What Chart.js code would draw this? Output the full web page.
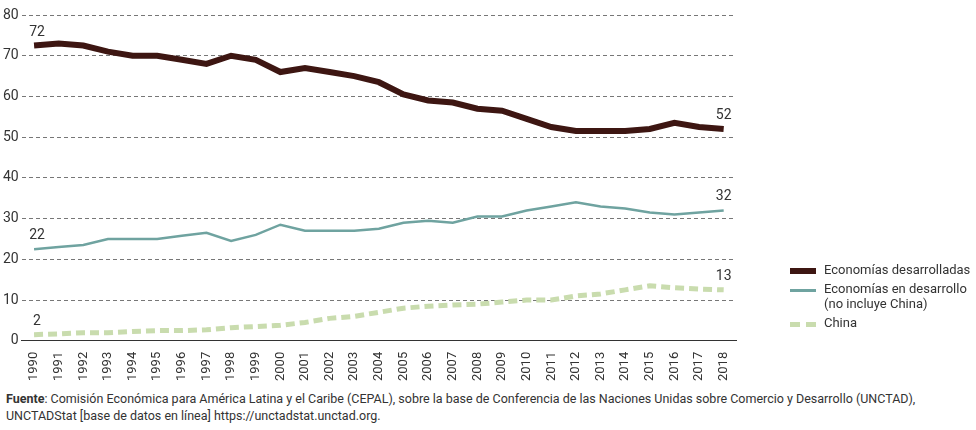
<!DOCTYPE html>
<html>
<head>
<script src="https://cdn.jsdelivr.net/npm/chart.js"></script>
<style>
body{margin:0;background:#fff;font-family:"Liberation Sans Narrow","Roboto","DejaVu Sans Condensed",sans-serif;color:#333}
#wrap{position:relative;width:976px;height:384px}
#legend{position:absolute;left:790px;top:262px;font-size:13px}
.item{display:flex;align-items:flex-start;margin-bottom:4px}
.sw{width:26px;height:0;margin-top:8px;margin-right:8px}
#src{font-size:12.5px;padding-left:6px;line-height:17px;margin-top:6px}
</style>
</head>
<body>
<div id="wrap"><canvas id="c" width="976" height="384"></canvas>
<div id="legend">
<div class="item"><div class="sw" style="border-top:6px solid #3d1612;margin-top:6px"></div>Economías desarrolladas</div>
<div class="item"><div class="sw" style="border-top:3px solid #6fa3a0"></div>Economías en desarrollo<br>(no incluye China)</div>
<div class="item"><div class="sw" style="border-top:5px dashed #c9dcae;margin-top:7px"></div>China</div>
</div></div>
<div id="src"><b>Fuente</b>: Comisión Económica para América Latina y el Caribe (CEPAL), sobre la base de Conferencia de las Naciones Unidas sobre Comercio y Desarrollo (UNCTAD),<br>UNCTADStat [base de datos en línea] https://unctadstat.unctad.org.</div>
<script>
const years = [];
for (let y = 1990; y <= 2018; y++) years.push(String(y));
const desarrolladas = [72.5,73,72.5,71,70,70,69,68,70,69,66,67,66,65,63.5,60.5,59,58.5,57,56.5,54.5,52.5,51.5,51.5,51.5,52,53.5,52.5,52];
const enDesarrollo = [22.5,23,23.5,25,25,25,25.8,26.5,24.5,26,28.5,27,27,27,27.5,29,29.5,29,30.5,30.5,32,33,34,33,32.5,31.5,31,31.5,32];
const china = [1.5,1.7,2,2,2.3,2.5,2.5,2.7,3.2,3.5,3.8,4.5,5.5,6,7,8,8.5,8.8,9,9.5,10,10,11,11.5,12.5,13.5,13,12.7,12.5];
const endLabels = [["72","52"],["22","32"],["2","13"]];

const labelPlugin = {
  id: 'ends',
  afterDatasetsDraw(chart) {
    const ctx = chart.ctx;
    ctx.save();
    ctx.font = '14px "Liberation Sans Narrow", Roboto, sans-serif';
    ctx.fillStyle = '#333';
    ctx.textAlign = 'center';
    chart.data.datasets.forEach((ds, i) => {
      const pts = chart.getDatasetMeta(i).data;
      const a = pts[0], b = pts[pts.length - 1];
      ctx.fillText(endLabels[i][0], a.x + 3, a.y - 10);
      ctx.fillText(endLabels[i][1], b.x, b.y - 10);
    });
    ctx.restore();
  }
};

new Chart(document.getElementById('c'), {
  type: 'line',
  data: {
    labels: years,
    datasets: [
      {data: desarrolladas, borderColor: '#3d1612', borderWidth: 6, pointRadius: 0, tension: 0},
      {data: enDesarrollo, borderColor: '#6fa3a0', borderWidth: 2.5, pointRadius: 0, tension: 0},
      {data: china, borderColor: '#c9dcae', borderWidth: 5, borderDash: [9, 5], pointRadius: 0, tension: 0}
    ]
  },
  options: {
    responsive: false,
    animation: false,
    layout: {padding: {left: 0, right: 240, top: 15, bottom: 0}},
    plugins: {legend: {display: false}, tooltip: {enabled: false}},
    scales: {
      x: {
        offset: true,
        grid: {display: false},
        border: {color: '#333'},
        ticks: {color: '#333', maxRotation: 90, minRotation: 90, autoSkip: false, font: {size: 13, family: '"Liberation Sans Narrow", Roboto, sans-serif'}}
      },
      y: {
        min: 0, max: 80,
        ticks: {stepSize: 10, color: '#333', font: {size: 14, family: '"Liberation Sans Narrow", Roboto, sans-serif'}},
        grid: {color: '#777', borderDash: [4, 3], drawTicks: false, tickLength: 0},
        border: {display: false, dash: [4, 3]}
      }
    }
  },
  plugins: [labelPlugin]
});
</script>
</body>
</html>
